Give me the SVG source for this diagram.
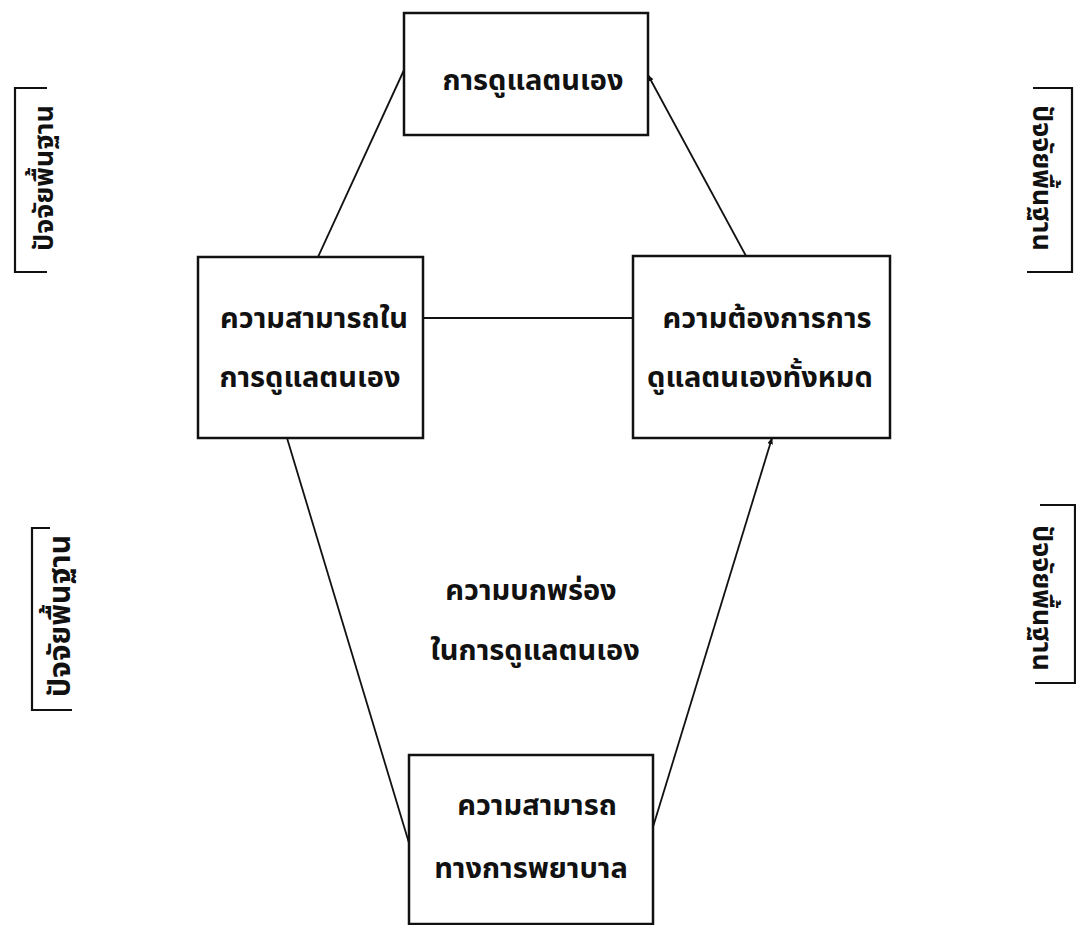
<svg xmlns="http://www.w3.org/2000/svg" width="1076" height="925" viewBox="0 0 1076 925">
<style>
.box{fill:none;stroke:#111;stroke-width:2.5}
.ln{fill:none;stroke:#111;stroke-width:1.8}
.br{fill:none;stroke:#111;stroke-width:2.2}
.t{font-family:'Noto Sans Thai','Loma','Garuda','Tlwg Typo','Noto Sans','DejaVu Sans',sans-serif;font-size:29px;font-weight:bold;fill:#111;text-anchor:middle}
.s{font-family:'Noto Sans Thai','Loma','Garuda','Tlwg Typo','Noto Sans','DejaVu Sans',sans-serif;font-size:27px;font-weight:bold;fill:#111;text-anchor:middle}
</style>
<defs>
<marker id="ah" viewBox="0 0 10 10" refX="9" refY="5" markerWidth="7" markerHeight="7" orient="auto" markerUnits="userSpaceOnUse">
<path d="M0,1 L10,5 L0,9 z" fill="#111"/>
</marker>
</defs>
<rect width="1076" height="925" fill="#fff"/>
<g id="connectors">
<line class="ln" x1="318" y1="257" x2="404" y2="70"/>
<line class="ln" x1="746" y1="256" x2="648" y2="75" marker-end="url(#ah)"/>
<line class="ln" x1="423" y1="318" x2="633" y2="318"/>
<line class="ln" x1="287" y1="438" x2="409" y2="843"/>
<line class="ln" x1="653" y1="827" x2="772" y2="438" marker-end="url(#ah)"/>
</g>
<g id="self-care">
<rect class="box" x="404" y="13" width="244" height="122"/>
<text class="t" x="533" y="90">การดูแลตนเอง</text>
</g>
<g id="self-care-agency">
<rect class="box" x="198" y="257" width="225" height="181"/>
<text class="t" x="314" y="328">ความสามารถใน</text>
<text class="t" x="310" y="387">การดูแลตนเอง</text>
</g>
<g id="therapeutic-demand">
<rect class="box" x="633" y="256" width="257" height="182"/>
<text class="t" x="767" y="328">ความต้องการการ</text>
<text class="t" x="760" y="387">ดูแลตนเองทั้งหมด</text>
</g>
<g id="deficit">
<text class="t" x="531" y="600">ความบกพร่อง</text>
<text class="t" x="535" y="660">ในการดูแลตนเอง</text>
</g>
<g id="nursing-agency">
<rect class="box" x="409" y="755" width="244" height="169"/>
<text class="t" x="537" y="815">ความสามารถ</text>
<text class="t" x="531" y="878">ทางการพยาบาล</text>
</g>
<g id="factor-tl">
<path class="br" d="M47,88 H15 V272 H47"/>
<text class="s" transform="translate(53,178) rotate(-90)">ปัจจัยพื้นฐาน</text>
</g>
<g id="factor-bl">
<path class="br" d="M50,528 H32 V710 H72"/>
<text class="s" transform="translate(70,616) rotate(-90)" style="font-size:30px">ปัจจัยพื้นฐาน</text>
</g>
<g id="factor-tr">
<path class="br" d="M1033,88 H1072 V272 H1027"/>
<text class="s" transform="translate(1033,178) rotate(90)">ปัจจัยพื้นฐาน</text>
</g>
<g id="factor-br">
<path class="br" d="M1040,505 H1075 V683 H1035"/>
<text class="s" transform="translate(1033,598) rotate(90)">ปัจจัยพื้นฐาน</text>
</g>
</svg>
